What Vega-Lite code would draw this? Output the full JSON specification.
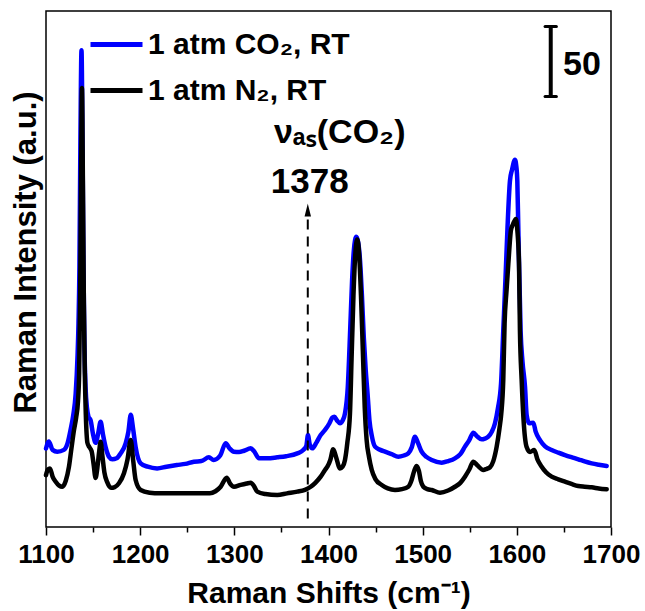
{
  "$schema": "https://vega.github.io/schema/vega-lite/v6.json",
  "width": 565,
  "height": 516,
  "autosize": {"type": "none"},
  "padding": {"left": 46, "top": 11, "right": 34, "bottom": 84},
  "config": {"view": {"stroke": "#000", "strokeWidth": 1.5}, "font": "Liberation Sans"},
  "datasets": {
    "annotation": [{}],
    "spectra": [
      {"series": "1 atm CO₂, RT", "shift": 1100, "intensity": 56},
      {"series": "1 atm CO₂, RT", "shift": 1103, "intensity": 61},
      {"series": "1 atm CO₂, RT", "shift": 1107, "intensity": 55},
      {"series": "1 atm CO₂, RT", "shift": 1112, "intensity": 53.7},
      {"series": "1 atm CO₂, RT", "shift": 1119, "intensity": 55},
      {"series": "1 atm CO₂, RT", "shift": 1123, "intensity": 60},
      {"series": "1 atm CO₂, RT", "shift": 1126, "intensity": 69},
      {"series": "1 atm CO₂, RT", "shift": 1129, "intensity": 80},
      {"series": "1 atm CO₂, RT", "shift": 1131.5, "intensity": 95},
      {"series": "1 atm CO₂, RT", "shift": 1133.5, "intensity": 122},
      {"series": "1 atm CO₂, RT", "shift": 1134.5, "intensity": 145},
      {"series": "1 atm CO₂, RT", "shift": 1135.5, "intensity": 185},
      {"series": "1 atm CO₂, RT", "shift": 1136.5, "intensity": 272},
      {"series": "1 atm CO₂, RT", "shift": 1137.7, "intensity": 340},
      {"series": "1 atm CO₂, RT", "shift": 1138.8, "intensity": 272},
      {"series": "1 atm CO₂, RT", "shift": 1139.8, "intensity": 185},
      {"series": "1 atm CO₂, RT", "shift": 1140.8, "intensity": 130},
      {"series": "1 atm CO₂, RT", "shift": 1142, "intensity": 100},
      {"series": "1 atm CO₂, RT", "shift": 1143.5, "intensity": 85},
      {"series": "1 atm CO₂, RT", "shift": 1145, "intensity": 79},
      {"series": "1 atm CO₂, RT", "shift": 1147.4, "intensity": 76},
      {"series": "1 atm CO₂, RT", "shift": 1150, "intensity": 66},
      {"series": "1 atm CO₂, RT", "shift": 1152.7, "intensity": 60},
      {"series": "1 atm CO₂, RT", "shift": 1155.5, "intensity": 67},
      {"series": "1 atm CO₂, RT", "shift": 1158, "intensity": 75},
      {"series": "1 atm CO₂, RT", "shift": 1160.5, "intensity": 66},
      {"series": "1 atm CO₂, RT", "shift": 1163.3, "intensity": 57},
      {"series": "1 atm CO₂, RT", "shift": 1167, "intensity": 50},
      {"series": "1 atm CO₂, RT", "shift": 1170.4, "intensity": 48.3},
      {"series": "1 atm CO₂, RT", "shift": 1175, "intensity": 49},
      {"series": "1 atm CO₂, RT", "shift": 1179.3, "intensity": 52.5},
      {"series": "1 atm CO₂, RT", "shift": 1184.6, "intensity": 59.7},
      {"series": "1 atm CO₂, RT", "shift": 1187.5, "intensity": 68},
      {"series": "1 atm CO₂, RT", "shift": 1190, "intensity": 80},
      {"series": "1 atm CO₂, RT", "shift": 1192.5, "intensity": 70},
      {"series": "1 atm CO₂, RT", "shift": 1195.2, "intensity": 57},
      {"series": "1 atm CO₂, RT", "shift": 1200.5, "intensity": 45.4},
      {"series": "1 atm CO₂, RT", "shift": 1208, "intensity": 43},
      {"series": "1 atm CO₂, RT", "shift": 1218, "intensity": 41.8},
      {"series": "1 atm CO₂, RT", "shift": 1228, "intensity": 43},
      {"series": "1 atm CO₂, RT", "shift": 1239, "intensity": 44.2},
      {"series": "1 atm CO₂, RT", "shift": 1248, "intensity": 45},
      {"series": "1 atm CO₂, RT", "shift": 1257, "intensity": 46.6},
      {"series": "1 atm CO₂, RT", "shift": 1265, "intensity": 47},
      {"series": "1 atm CO₂, RT", "shift": 1273, "intensity": 49.7},
      {"series": "1 atm CO₂, RT", "shift": 1278, "intensity": 47.8},
      {"series": "1 atm CO₂, RT", "shift": 1285, "intensity": 51},
      {"series": "1 atm CO₂, RT", "shift": 1290.8, "intensity": 59.7},
      {"series": "1 atm CO₂, RT", "shift": 1295, "intensity": 56},
      {"series": "1 atm CO₂, RT", "shift": 1299.6, "intensity": 53.7},
      {"series": "1 atm CO₂, RT", "shift": 1305, "intensity": 53.5},
      {"series": "1 atm CO₂, RT", "shift": 1310.3, "intensity": 54.4},
      {"series": "1 atm CO₂, RT", "shift": 1317.4, "intensity": 56.1},
      {"series": "1 atm CO₂, RT", "shift": 1321, "intensity": 54},
      {"series": "1 atm CO₂, RT", "shift": 1326.2, "intensity": 49},
      {"series": "1 atm CO₂, RT", "shift": 1335, "intensity": 49},
      {"series": "1 atm CO₂, RT", "shift": 1345.6, "intensity": 49.7},
      {"series": "1 atm CO₂, RT", "shift": 1355, "intensity": 50.5},
      {"series": "1 atm CO₂, RT", "shift": 1366.9, "intensity": 52.5},
      {"series": "1 atm CO₂, RT", "shift": 1373.2, "intensity": 54.9},
      {"series": "1 atm CO₂, RT", "shift": 1376.5, "intensity": 58},
      {"series": "1 atm CO₂, RT", "shift": 1378.2, "intensity": 65.6},
      {"series": "1 atm CO₂, RT", "shift": 1380, "intensity": 59},
      {"series": "1 atm CO₂, RT", "shift": 1382.8, "intensity": 56.1},
      {"series": "1 atm CO₂, RT", "shift": 1387, "intensity": 60},
      {"series": "1 atm CO₂, RT", "shift": 1391.7, "intensity": 65.6},
      {"series": "1 atm CO₂, RT", "shift": 1396.3, "intensity": 69.2},
      {"series": "1 atm CO₂, RT", "shift": 1401, "intensity": 74},
      {"series": "1 atm CO₂, RT", "shift": 1404, "intensity": 78},
      {"series": "1 atm CO₂, RT", "shift": 1406.2, "intensity": 78.7},
      {"series": "1 atm CO₂, RT", "shift": 1409, "intensity": 76},
      {"series": "1 atm CO₂, RT", "shift": 1412.2, "intensity": 74},
      {"series": "1 atm CO₂, RT", "shift": 1415, "intensity": 76},
      {"series": "1 atm CO₂, RT", "shift": 1417.5, "intensity": 81},
      {"series": "1 atm CO₂, RT", "shift": 1420.5, "intensity": 100},
      {"series": "1 atm CO₂, RT", "shift": 1423, "intensity": 140},
      {"series": "1 atm CO₂, RT", "shift": 1425, "intensity": 175},
      {"series": "1 atm CO₂, RT", "shift": 1427, "intensity": 198},
      {"series": "1 atm CO₂, RT", "shift": 1429.5, "intensity": 207},
      {"series": "1 atm CO₂, RT", "shift": 1431.5, "intensity": 203},
      {"series": "1 atm CO₂, RT", "shift": 1433.5, "intensity": 190},
      {"series": "1 atm CO₂, RT", "shift": 1435.5, "intensity": 165},
      {"series": "1 atm CO₂, RT", "shift": 1437.5, "intensity": 135},
      {"series": "1 atm CO₂, RT", "shift": 1439.5, "intensity": 112},
      {"series": "1 atm CO₂, RT", "shift": 1441.5, "intensity": 95},
      {"series": "1 atm CO₂, RT", "shift": 1443.5, "intensity": 76},
      {"series": "1 atm CO₂, RT", "shift": 1446, "intensity": 65},
      {"series": "1 atm CO₂, RT", "shift": 1449.4, "intensity": 57.3},
      {"series": "1 atm CO₂, RT", "shift": 1455, "intensity": 55},
      {"series": "1 atm CO₂, RT", "shift": 1460, "intensity": 53.7},
      {"series": "1 atm CO₂, RT", "shift": 1467, "intensity": 52},
      {"series": "1 atm CO₂, RT", "shift": 1474.1, "intensity": 50.1},
      {"series": "1 atm CO₂, RT", "shift": 1480, "intensity": 51},
      {"series": "1 atm CO₂, RT", "shift": 1484.7, "intensity": 52.5},
      {"series": "1 atm CO₂, RT", "shift": 1488.5, "intensity": 57},
      {"series": "1 atm CO₂, RT", "shift": 1491.8, "intensity": 64.4},
      {"series": "1 atm CO₂, RT", "shift": 1495, "intensity": 60},
      {"series": "1 atm CO₂, RT", "shift": 1498.9, "intensity": 53.7},
      {"series": "1 atm CO₂, RT", "shift": 1504, "intensity": 50},
      {"series": "1 atm CO₂, RT", "shift": 1509.6, "intensity": 47.8},
      {"series": "1 atm CO₂, RT", "shift": 1520.2, "intensity": 45.9},
      {"series": "1 atm CO₂, RT", "shift": 1527, "intensity": 47},
      {"series": "1 atm CO₂, RT", "shift": 1534.3, "intensity": 49},
      {"series": "1 atm CO₂, RT", "shift": 1540, "intensity": 52},
      {"series": "1 atm CO₂, RT", "shift": 1544.9, "intensity": 57.3},
      {"series": "1 atm CO₂, RT", "shift": 1549.5, "intensity": 62},
      {"series": "1 atm CO₂, RT", "shift": 1553.8, "intensity": 67.3},
      {"series": "1 atm CO₂, RT", "shift": 1558, "intensity": 64.5},
      {"series": "1 atm CO₂, RT", "shift": 1562.7, "intensity": 62.5},
      {"series": "1 atm CO₂, RT", "shift": 1566, "intensity": 63},
      {"series": "1 atm CO₂, RT", "shift": 1569.7, "intensity": 64.4},
      {"series": "1 atm CO₂, RT", "shift": 1573.5, "intensity": 68},
      {"series": "1 atm CO₂, RT", "shift": 1576.8, "intensity": 74},
      {"series": "1 atm CO₂, RT", "shift": 1580, "intensity": 85},
      {"series": "1 atm CO₂, RT", "shift": 1583.2, "intensity": 102},
      {"series": "1 atm CO₂, RT", "shift": 1585.6, "intensity": 140},
      {"series": "1 atm CO₂, RT", "shift": 1588, "intensity": 178},
      {"series": "1 atm CO₂, RT", "shift": 1590, "intensity": 212},
      {"series": "1 atm CO₂, RT", "shift": 1592.7, "intensity": 247},
      {"series": "1 atm CO₂, RT", "shift": 1595, "intensity": 255},
      {"series": "1 atm CO₂, RT", "shift": 1598, "intensity": 262},
      {"series": "1 atm CO₂, RT", "shift": 1599.5, "intensity": 257},
      {"series": "1 atm CO₂, RT", "shift": 1600.5, "intensity": 247},
      {"series": "1 atm CO₂, RT", "shift": 1601.6, "intensity": 212},
      {"series": "1 atm CO₂, RT", "shift": 1604, "intensity": 140},
      {"series": "1 atm CO₂, RT", "shift": 1606, "intensity": 118},
      {"series": "1 atm CO₂, RT", "shift": 1608.7, "intensity": 100},
      {"series": "1 atm CO₂, RT", "shift": 1610.4, "intensity": 80},
      {"series": "1 atm CO₂, RT", "shift": 1613, "intensity": 74},
      {"series": "1 atm CO₂, RT", "shift": 1617.5, "intensity": 74.4},
      {"series": "1 atm CO₂, RT", "shift": 1620, "intensity": 68},
      {"series": "1 atm CO₂, RT", "shift": 1624.6, "intensity": 62},
      {"series": "1 atm CO₂, RT", "shift": 1630, "intensity": 57.5},
      {"series": "1 atm CO₂, RT", "shift": 1637, "intensity": 54.9},
      {"series": "1 atm CO₂, RT", "shift": 1644, "intensity": 53},
      {"series": "1 atm CO₂, RT", "shift": 1651.1, "intensity": 51.3},
      {"series": "1 atm CO₂, RT", "shift": 1658, "intensity": 49.8},
      {"series": "1 atm CO₂, RT", "shift": 1665.3, "intensity": 48.3},
      {"series": "1 atm CO₂, RT", "shift": 1672, "intensity": 46.8},
      {"series": "1 atm CO₂, RT", "shift": 1679.5, "intensity": 45.4},
      {"series": "1 atm CO₂, RT", "shift": 1687, "intensity": 44.4},
      {"series": "1 atm CO₂, RT", "shift": 1695.4, "intensity": 43.5},
      {"series": "1 atm N₂, RT", "shift": 1100, "intensity": 37},
      {"series": "1 atm N₂, RT", "shift": 1102, "intensity": 41},
      {"series": "1 atm N₂, RT", "shift": 1104.2, "intensity": 41.8},
      {"series": "1 atm N₂, RT", "shift": 1107, "intensity": 36},
      {"series": "1 atm N₂, RT", "shift": 1110.3, "intensity": 32.3},
      {"series": "1 atm N₂, RT", "shift": 1114, "intensity": 29.5},
      {"series": "1 atm N₂, RT", "shift": 1117.3, "intensity": 28.7},
      {"series": "1 atm N₂, RT", "shift": 1121, "intensity": 33},
      {"series": "1 atm N₂, RT", "shift": 1124.4, "intensity": 43},
      {"series": "1 atm N₂, RT", "shift": 1127, "intensity": 56},
      {"series": "1 atm N₂, RT", "shift": 1129.7, "intensity": 69},
      {"series": "1 atm N₂, RT", "shift": 1132, "intensity": 78},
      {"series": "1 atm N₂, RT", "shift": 1134, "intensity": 90},
      {"series": "1 atm N₂, RT", "shift": 1135.2, "intensity": 110},
      {"series": "1 atm N₂, RT", "shift": 1136.2, "intensity": 160},
      {"series": "1 atm N₂, RT", "shift": 1137.2, "intensity": 245},
      {"series": "1 atm N₂, RT", "shift": 1138.2, "intensity": 313},
      {"series": "1 atm N₂, RT", "shift": 1139.2, "intensity": 245},
      {"series": "1 atm N₂, RT", "shift": 1140.2, "intensity": 160},
      {"series": "1 atm N₂, RT", "shift": 1141.2, "intensity": 110},
      {"series": "1 atm N₂, RT", "shift": 1142.3, "intensity": 80},
      {"series": "1 atm N₂, RT", "shift": 1144, "intensity": 60},
      {"series": "1 atm N₂, RT", "shift": 1146, "intensity": 57},
      {"series": "1 atm N₂, RT", "shift": 1148.5, "intensity": 54},
      {"series": "1 atm N₂, RT", "shift": 1150.5, "intensity": 45},
      {"series": "1 atm N₂, RT", "shift": 1152.7, "intensity": 35},
      {"series": "1 atm N₂, RT", "shift": 1154.5, "intensity": 42},
      {"series": "1 atm N₂, RT", "shift": 1156.5, "intensity": 54},
      {"series": "1 atm N₂, RT", "shift": 1158, "intensity": 60.8},
      {"series": "1 atm N₂, RT", "shift": 1160, "intensity": 50},
      {"series": "1 atm N₂, RT", "shift": 1162, "intensity": 39},
      {"series": "1 atm N₂, RT", "shift": 1165, "intensity": 32},
      {"series": "1 atm N₂, RT", "shift": 1169, "intensity": 28},
      {"series": "1 atm N₂, RT", "shift": 1173, "intensity": 28.5},
      {"series": "1 atm N₂, RT", "shift": 1177.5, "intensity": 31.2},
      {"series": "1 atm N₂, RT", "shift": 1182.8, "intensity": 38.3},
      {"series": "1 atm N₂, RT", "shift": 1186.5, "intensity": 48},
      {"series": "1 atm N₂, RT", "shift": 1190, "intensity": 62},
      {"series": "1 atm N₂, RT", "shift": 1192.5, "intensity": 48},
      {"series": "1 atm N₂, RT", "shift": 1195.2, "intensity": 33.5},
      {"series": "1 atm N₂, RT", "shift": 1200.5, "intensity": 26.4},
      {"series": "1 atm N₂, RT", "shift": 1210, "intensity": 24.5},
      {"series": "1 atm N₂, RT", "shift": 1221, "intensity": 24},
      {"series": "1 atm N₂, RT", "shift": 1240, "intensity": 24},
      {"series": "1 atm N₂, RT", "shift": 1260, "intensity": 24},
      {"series": "1 atm N₂, RT", "shift": 1274, "intensity": 24},
      {"series": "1 atm N₂, RT", "shift": 1280, "intensity": 25.5},
      {"series": "1 atm N₂, RT", "shift": 1285.5, "intensity": 28.7},
      {"series": "1 atm N₂, RT", "shift": 1291.9, "intensity": 35.2},
      {"series": "1 atm N₂, RT", "shift": 1295.5, "intensity": 31},
      {"series": "1 atm N₂, RT", "shift": 1299.6, "intensity": 28.7},
      {"series": "1 atm N₂, RT", "shift": 1306.7, "intensity": 30},
      {"series": "1 atm N₂, RT", "shift": 1313, "intensity": 31},
      {"series": "1 atm N₂, RT", "shift": 1317.4, "intensity": 31.6},
      {"series": "1 atm N₂, RT", "shift": 1321, "intensity": 29},
      {"series": "1 atm N₂, RT", "shift": 1324.4, "intensity": 25.2},
      {"series": "1 atm N₂, RT", "shift": 1333, "intensity": 23.5},
      {"series": "1 atm N₂, RT", "shift": 1345.6, "intensity": 22.8},
      {"series": "1 atm N₂, RT", "shift": 1356, "intensity": 24},
      {"series": "1 atm N₂, RT", "shift": 1366.9, "intensity": 25.2},
      {"series": "1 atm N₂, RT", "shift": 1375, "intensity": 26.5},
      {"series": "1 atm N₂, RT", "shift": 1381.1, "intensity": 28.7},
      {"series": "1 atm N₂, RT", "shift": 1386, "intensity": 31.5},
      {"series": "1 atm N₂, RT", "shift": 1391.7, "intensity": 35.9},
      {"series": "1 atm N₂, RT", "shift": 1396.3, "intensity": 40.7},
      {"series": "1 atm N₂, RT", "shift": 1398.8, "intensity": 43},
      {"series": "1 atm N₂, RT", "shift": 1402, "intensity": 48},
      {"series": "1 atm N₂, RT", "shift": 1405, "intensity": 55.5},
      {"series": "1 atm N₂, RT", "shift": 1408, "intensity": 50},
      {"series": "1 atm N₂, RT", "shift": 1412.2, "intensity": 41.8},
      {"series": "1 atm N₂, RT", "shift": 1415, "intensity": 43},
      {"series": "1 atm N₂, RT", "shift": 1417.5, "intensity": 47.8},
      {"series": "1 atm N₂, RT", "shift": 1420, "intensity": 60},
      {"series": "1 atm N₂, RT", "shift": 1422.8, "intensity": 81},
      {"series": "1 atm N₂, RT", "shift": 1424.5, "intensity": 120},
      {"series": "1 atm N₂, RT", "shift": 1426.5, "intensity": 165},
      {"series": "1 atm N₂, RT", "shift": 1428.5, "intensity": 195},
      {"series": "1 atm N₂, RT", "shift": 1430.5, "intensity": 205},
      {"series": "1 atm N₂, RT", "shift": 1432.5, "intensity": 195},
      {"series": "1 atm N₂, RT", "shift": 1434.5, "intensity": 165},
      {"series": "1 atm N₂, RT", "shift": 1436.5, "intensity": 125},
      {"series": "1 atm N₂, RT", "shift": 1438.5, "intensity": 85},
      {"series": "1 atm N₂, RT", "shift": 1440.5, "intensity": 62},
      {"series": "1 atm N₂, RT", "shift": 1443, "intensity": 50},
      {"series": "1 atm N₂, RT", "shift": 1445.9, "intensity": 40.7},
      {"series": "1 atm N₂, RT", "shift": 1450, "intensity": 34},
      {"series": "1 atm N₂, RT", "shift": 1456.5, "intensity": 30},
      {"series": "1 atm N₂, RT", "shift": 1463, "intensity": 27.5},
      {"series": "1 atm N₂, RT", "shift": 1470.6, "intensity": 26.4},
      {"series": "1 atm N₂, RT", "shift": 1478, "intensity": 27},
      {"series": "1 atm N₂, RT", "shift": 1484.7, "intensity": 28.7},
      {"series": "1 atm N₂, RT", "shift": 1488, "intensity": 33},
      {"series": "1 atm N₂, RT", "shift": 1491, "intensity": 40},
      {"series": "1 atm N₂, RT", "shift": 1493.6, "intensity": 43.5},
      {"series": "1 atm N₂, RT", "shift": 1496, "intensity": 40},
      {"series": "1 atm N₂, RT", "shift": 1498, "intensity": 33},
      {"series": "1 atm N₂, RT", "shift": 1500.7, "intensity": 28.7},
      {"series": "1 atm N₂, RT", "shift": 1505, "intensity": 27},
      {"series": "1 atm N₂, RT", "shift": 1509.6, "intensity": 26.4},
      {"series": "1 atm N₂, RT", "shift": 1518.4, "intensity": 24.5},
      {"series": "1 atm N₂, RT", "shift": 1527, "intensity": 26},
      {"series": "1 atm N₂, RT", "shift": 1534.3, "intensity": 28.7},
      {"series": "1 atm N₂, RT", "shift": 1540, "intensity": 31.5},
      {"series": "1 atm N₂, RT", "shift": 1544.9, "intensity": 35.9},
      {"series": "1 atm N₂, RT", "shift": 1549.5, "intensity": 41},
      {"series": "1 atm N₂, RT", "shift": 1553.8, "intensity": 46.6},
      {"series": "1 atm N₂, RT", "shift": 1558, "intensity": 44},
      {"series": "1 atm N₂, RT", "shift": 1564.4, "intensity": 40.7},
      {"series": "1 atm N₂, RT", "shift": 1568, "intensity": 41.5},
      {"series": "1 atm N₂, RT", "shift": 1571.5, "intensity": 42.6},
      {"series": "1 atm N₂, RT", "shift": 1575, "intensity": 47},
      {"series": "1 atm N₂, RT", "shift": 1578.6, "intensity": 57.3},
      {"series": "1 atm N₂, RT", "shift": 1581.5, "intensity": 70},
      {"series": "1 atm N₂, RT", "shift": 1583.5, "intensity": 81},
      {"series": "1 atm N₂, RT", "shift": 1585.6, "intensity": 105},
      {"series": "1 atm N₂, RT", "shift": 1587, "intensity": 145},
      {"series": "1 atm N₂, RT", "shift": 1589, "intensity": 168},
      {"series": "1 atm N₂, RT", "shift": 1591, "intensity": 188},
      {"series": "1 atm N₂, RT", "shift": 1593.8, "intensity": 212},
      {"series": "1 atm N₂, RT", "shift": 1596, "intensity": 216},
      {"series": "1 atm N₂, RT", "shift": 1599, "intensity": 219.7},
      {"series": "1 atm N₂, RT", "shift": 1600.5, "intensity": 212},
      {"series": "1 atm N₂, RT", "shift": 1602.3, "intensity": 188},
      {"series": "1 atm N₂, RT", "shift": 1603.3, "intensity": 140},
      {"series": "1 atm N₂, RT", "shift": 1605.1, "intensity": 105},
      {"series": "1 atm N₂, RT", "shift": 1607, "intensity": 78},
      {"series": "1 atm N₂, RT", "shift": 1610.4, "intensity": 57},
      {"series": "1 atm N₂, RT", "shift": 1614, "intensity": 53.5},
      {"series": "1 atm N₂, RT", "shift": 1618.5, "intensity": 54.9},
      {"series": "1 atm N₂, RT", "shift": 1622, "intensity": 48},
      {"series": "1 atm N₂, RT", "shift": 1626.4, "intensity": 43},
      {"series": "1 atm N₂, RT", "shift": 1631, "intensity": 39},
      {"series": "1 atm N₂, RT", "shift": 1637, "intensity": 35.9},
      {"series": "1 atm N₂, RT", "shift": 1644, "intensity": 34},
      {"series": "1 atm N₂, RT", "shift": 1651.1, "intensity": 32.3},
      {"series": "1 atm N₂, RT", "shift": 1658, "intensity": 30.7},
      {"series": "1 atm N₂, RT", "shift": 1665.3, "intensity": 29.2},
      {"series": "1 atm N₂, RT", "shift": 1672, "intensity": 28.7},
      {"series": "1 atm N₂, RT", "shift": 1679.5, "intensity": 28.3},
      {"series": "1 atm N₂, RT", "shift": 1687, "intensity": 27.5},
      {"series": "1 atm N₂, RT", "shift": 1695.4, "intensity": 26.9}
    ]
  },
  "layer": [
    {
      "data": {"name": "spectra"},
      "mark": {"type": "line", "strokeWidth": 4.5, "interpolate": "monotone", "strokeJoin": "round", "strokeCap": "round"},
      "encoding": {
        "x": {
          "field": "shift", "type": "quantitative",
          "scale": {"domain": [1100, 1700], "nice": false, "zero": false},
          "axis": {
            "values": [1100, 1150, 1200, 1250, 1300, 1350, 1400, 1450, 1500, 1550, 1600, 1650, 1700],
            "format": "d",
            "labelExpr": "datum.value % 100 === 0 ? datum.label : ''",
            "tickSize": {"condition": {"test": "datum.value % 100 === 0", "value": 8}, "value": 5},
            "tickColor": "#000", "tickWidth": 1.5,
            "domain": false, "grid": false,
            "labelFontSize": 26, "labelFontWeight": "bold", "labelColor": "#000",
            "labelPadding": 6, "labelFlush": false, "labelOverlap": false,
            "title": "Raman Shifts (cm⁻¹)",
            "titleFontSize": 30, "titleFontWeight": "bold", "titleColor": "#000", "titlePadding": 11
          }
        },
        "y": {
          "field": "intensity", "type": "quantitative",
          "scale": {"domain": [0, 368], "nice": false, "zero": false},
          "axis": {
            "labels": false, "ticks": false, "domain": false, "grid": false,
            "title": "Raman Intensity (a.u.)",
            "titleFontSize": 31, "titleFontWeight": "bold", "titleColor": "#000",
            "titleX": -11, "titleY": 241, "titleBaseline": "alphabetic", "titleAngle": 270
          }
        },
        "color": {
          "field": "series", "type": "nominal",
          "scale": {"domain": ["1 atm CO₂, RT", "1 atm N₂, RT"], "range": ["#0000FF", "#000000"]},
          "legend": {
            "orient": "none", "legendX": 42, "legendY": 5, "title": null,
            "symbolType": "stroke", "symbolStrokeWidth": 5, "symbolSize": 2704,
            "labelFontSize": 30, "labelFontWeight": "bold", "labelColor": "#000",
            "labelOffset": 3, "rowPadding": 2, "padding": 0, "symbolOffset": 0, "labelLimit": 500
          }
        }
      }
    },
    {
      "data": {"name": "annotation"},
      "mark": {"type": "rule", "strokeDash": [10, 7], "strokeWidth": 2, "color": "#000"},
      "encoding": {"x": {"datum": 1378}, "y": {"datum": 6}, "y2": {"datum": 222}}
    },
    {
      "data": {"name": "annotation"},
      "mark": {"type": "point", "shape": "M0,-1L0.5,1L-0.5,1Z", "filled": true, "color": "#000", "size": 169, "opacity": 1},
      "encoding": {"x": {"datum": 1378}, "y": {"datum": 226}}
    },
    {
      "data": {"name": "annotation"},
      "mark": {"type": "text", "text": "1378", "fontSize": 35, "fontWeight": "bold", "align": "center", "baseline": "alphabetic", "color": "#000"},
      "encoding": {"x": {"datum": 1380}, "y": {"datum": 238}}
    },
    {
      "data": {"name": "annotation"},
      "mark": {"type": "text", "text": "νₐₛ(CO₂)", "fontSize": 34, "fontWeight": "bold", "align": "center", "baseline": "alphabetic", "color": "#000"},
      "encoding": {"x": {"datum": 1412}, "y": {"datum": 274}}
    },
    {
      "data": {"name": "annotation"},
      "mark": {"type": "rule", "strokeWidth": 4, "color": "#000"},
      "encoding": {"x": {"datum": 1636}, "y": {"datum": 307}, "y2": {"datum": 357}}
    },
    {
      "data": {"name": "annotation"},
      "mark": {"type": "rule", "strokeWidth": 3, "color": "#000", "strokeCap": "round"},
      "encoding": {"x": {"datum": 1630}, "x2": {"datum": 1642}, "y": {"datum": 307}}
    },
    {
      "data": {"name": "annotation"},
      "mark": {"type": "rule", "strokeWidth": 3, "color": "#000", "strokeCap": "round"},
      "encoding": {"x": {"datum": 1630}, "x2": {"datum": 1642}, "y": {"datum": 357}}
    },
    {
      "data": {"name": "annotation"},
      "mark": {"type": "text", "text": "50", "fontSize": 34, "fontWeight": "bold", "align": "left", "baseline": "alphabetic", "color": "#000"},
      "encoding": {"x": {"datum": 1649}, "y": {"datum": 322.4}}
    }
  ]
}
